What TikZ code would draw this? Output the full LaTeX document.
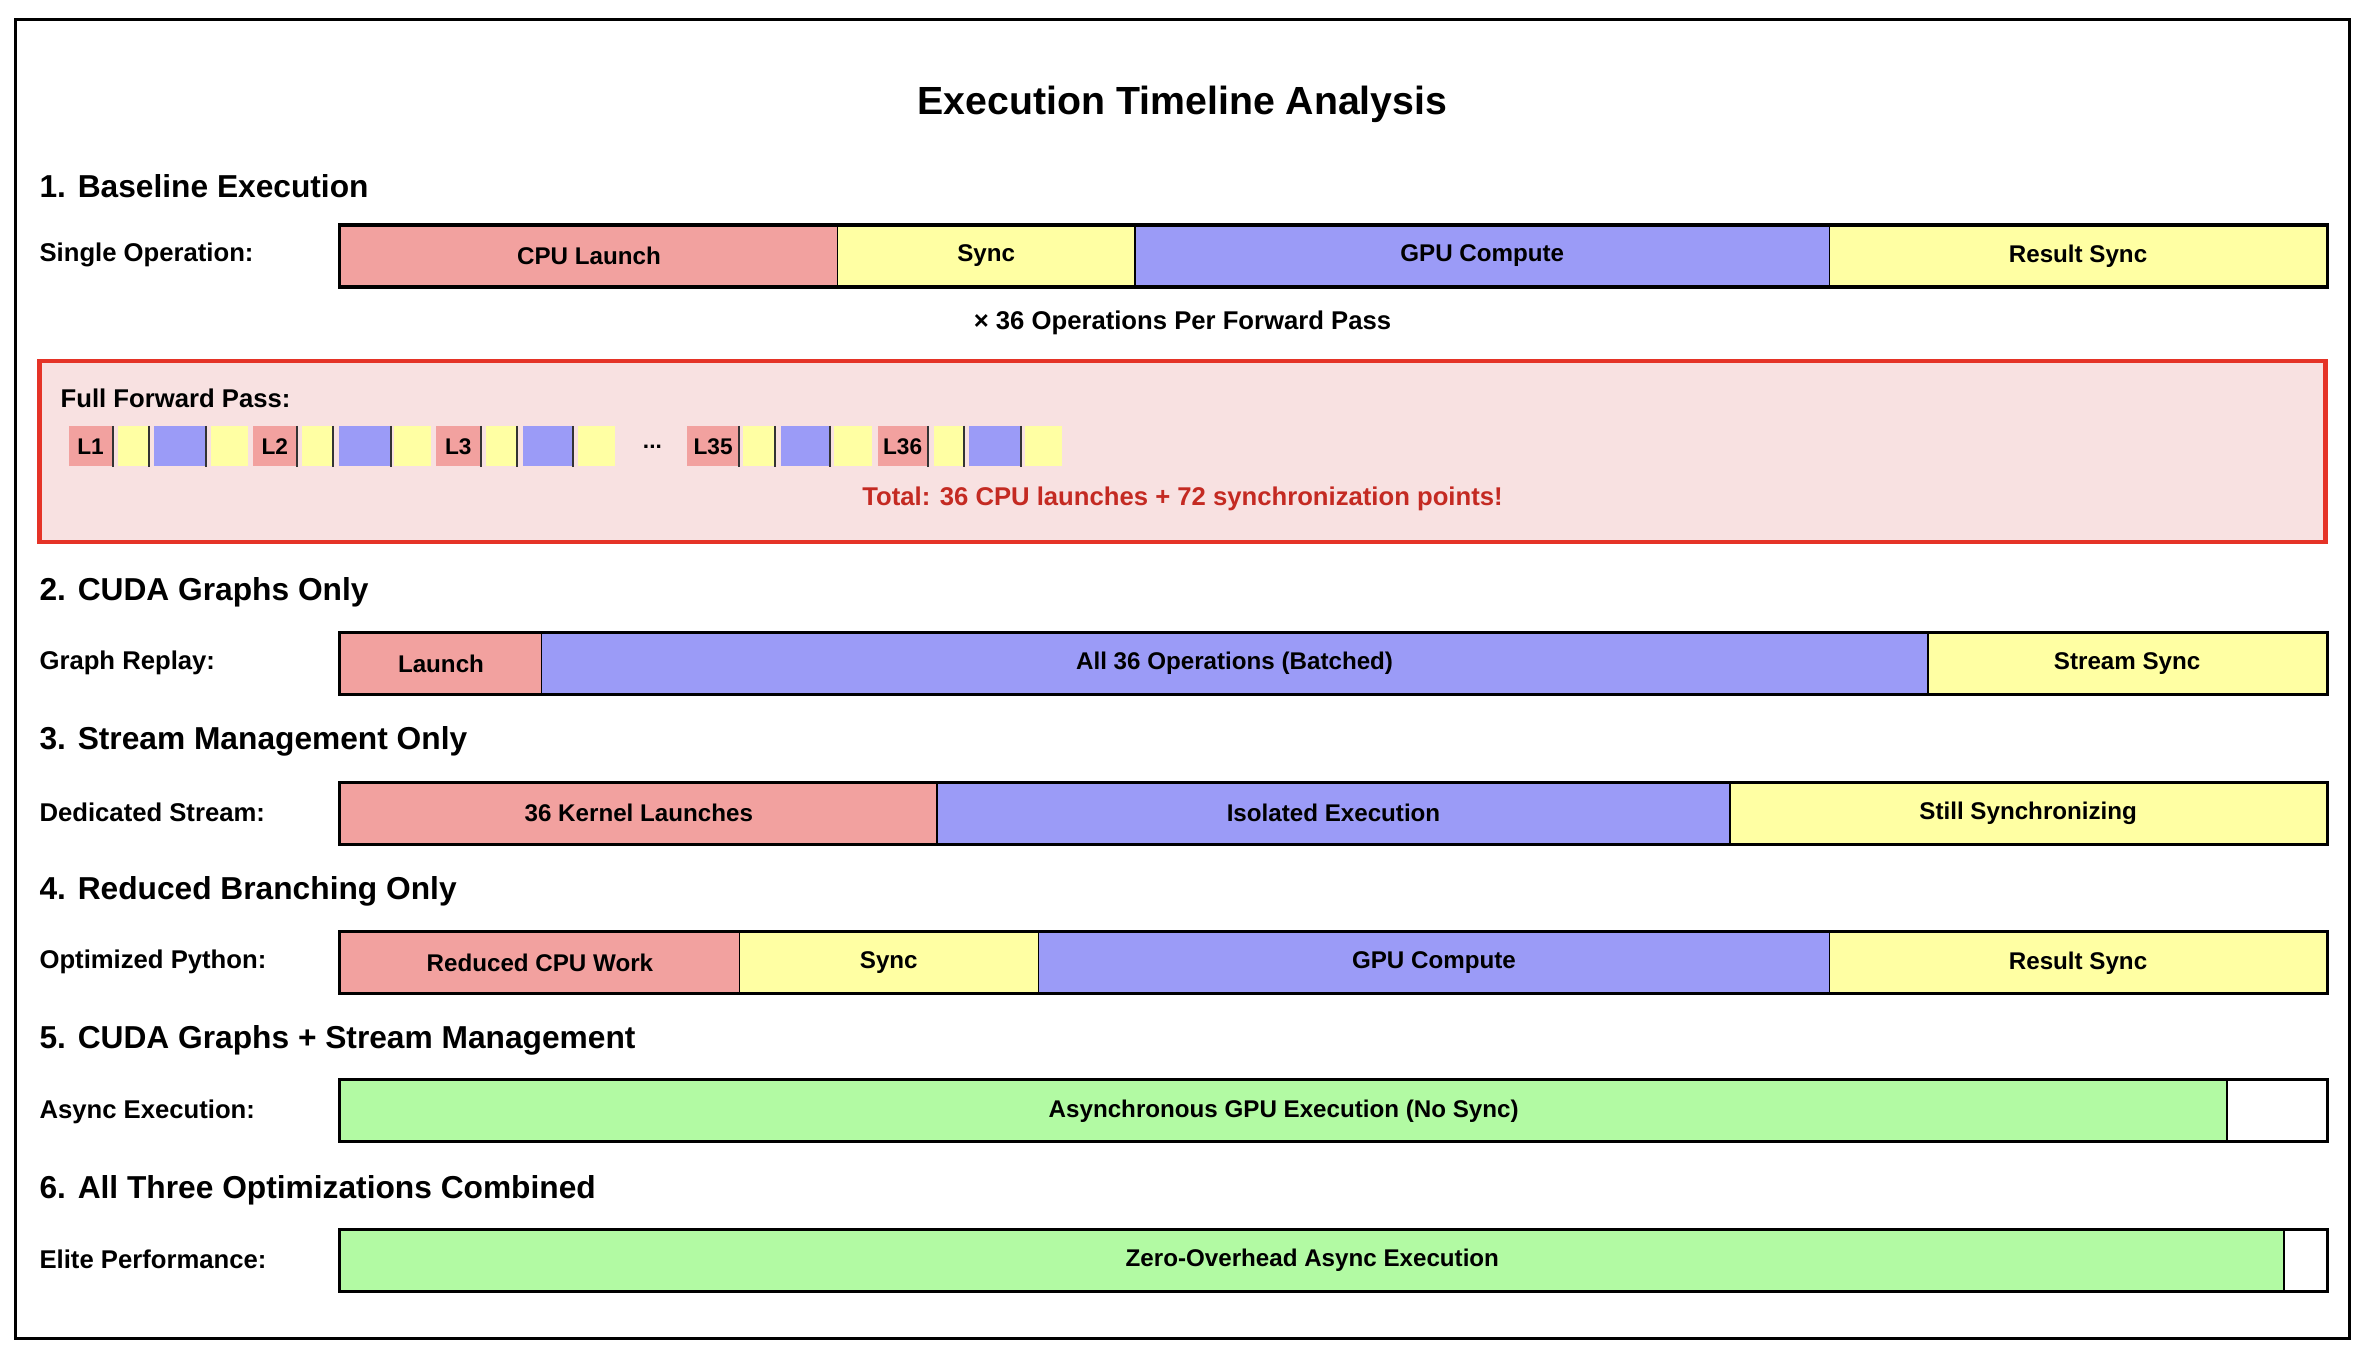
\documentclass[tikz,border=0pt]{standalone}
\usepackage{fontspec}
\setmainfont{Liberation Sans}
\definecolor{cred}{HTML}{F2A19F}
\definecolor{cyel}{HTML}{FFFFA3}
\definecolor{cblu}{HTML}{9B9BF7}
\definecolor{cgrn}{HTML}{B2FAA3}
\definecolor{pinkbg}{HTML}{F8E1E1}
\definecolor{redline}{HTML}{E53327}
\definecolor{redtext}{HTML}{C42A22}
\begin{document}
\begin{tikzpicture}[x=1pt,y=-1pt,
  seg/.style={draw=black,line width=1pt,inner sep=0pt,font=\fontsize{16}{18}\selectfont\bfseries},
  barframe/.style={draw=black,line width=2.2pt},
  head/.style={anchor=west,font=\fontsize{21}{24}\selectfont\bfseries,inner sep=0pt},
  lab/.style={anchor=west,font=\fontsize{17}{20}\selectfont\bfseries,inner sep=0pt},
  sm/.style={inner sep=0pt,font=\fontsize{15}{17}\selectfont\bfseries}]
\useasboundingbox (0,0) rectangle (1568,898);
\draw[line width=2pt] (10,13) rectangle (1556,886);
\node[font=\fontsize{26}{30}\selectfont\bfseries] (title) at (783,69) {Execution Timeline Analysis};

% helper macro for segments
\newcommand{\segbox}[6]{\node[seg,fill=#2,minimum width={#4-#3},minimum height=40,anchor=north west] (#1) at (#3,#5) {#6};}

% Row 1
\node[head] (h1) at (26,123) {1. Baseline Execution};
\node[lab] (l1) at (26,169) {Single Operation:};
\segbox{a1}{cred}{225}{554}{149}{CPU Launch}
\segbox{a2}{cyel}{554}{751}{149}{Sync}
\segbox{a3}{cblu}{751}{1211}{149}{GPU Compute}
\segbox{a4}{cyel}{1211}{1540}{149}{Result Sync}
\draw[barframe] (a1.north west) rectangle (a4.south east);
\node[font=\fontsize{17}{20}\selectfont\bfseries] (mult) at (783,214) {× 36 Operations Per Forward Pass};

% Full forward pass
\draw[redline,fill=pinkbg,line width=3pt] (26,239) rectangle (1540,359);
\node[lab] (ffp) at (40,264) {Full Forward Pass:};
\foreach \n/\c/\xa/\xb/\t/\e in {
 b1/cred/45.2/74.4/L1/1, b2/cyel/78/98.4//1, b3/cblu/102/136//1, b4/cyel/139.6/164//0,
 b5/cred/167/196.5/L2/1, b6/cyel/199.6/220.3//1, b7/cblu/224/258.5//1, b8/cyel/260.8/285//0,
 b9/cred/288.6/318/L3/1, b10/cyel/321.5/342//1, b11/cblu/346/379//1, b12/cyel/382.6/407//0,
 b13/cred/455/489/L35/1, b14/cyel/492/513//1, b15/cblu/516.8/549//1, b16/cyel/552/577.5//0,
 b17/cred/581/614/L36/1, b18/cyel/618/638//1, b19/cblu/641.6/675.6//1, b20/cyel/678.6/703//0}{
  \node[sm,fill=\c,minimum width={\xb-\xa},minimum height=26.6,anchor=north west] (\n) at (\xa,282) {\t};
  \ifnum\e=1 \draw[line width=1.2pt,black!80] (\n.north east) -- (\n.south east);\fi
}
\node[sm] (dots) at (432,296) {...};
\node[font=\fontsize{17}{20}\selectfont\bfseries,text=redtext] (total) at (783,330) {Total: 36 CPU launches + 72 synchronization points!};

% Row 2
\node[head] (h2) at (26,392) {2. CUDA Graphs Only};
\node[lab] (l2) at (26,439) {Graph Replay:};
\segbox{c1}{cred}{225}{358}{419}{Launch}
\segbox{c2}{cblu}{358}{1276}{419}{All 36 Operations (Batched)}
\segbox{c3}{cyel}{1276}{1540}{419}{Stream Sync}
\draw[barframe] (c1.north west) rectangle (c3.south east);

% Row 3
\node[head] (h3) at (26,491) {3. Stream Management Only};
\node[lab] (l3) at (26,538) {Dedicated Stream:};
\segbox{d1}{cred}{225}{620}{518}{36 Kernel Launches}
\segbox{d2}{cblu}{620}{1145}{518}{Isolated Execution}
\segbox{d3}{cyel}{1145}{1540}{518}{Still Synchronizing}
\draw[barframe] (d1.north west) rectangle (d3.south east);

% Row 4
\node[head] (h4) at (26,590) {4. Reduced Branching Only};
\node[lab] (l4) at (26,637) {Optimized Python:};
\segbox{e1}{cred}{225}{489}{617}{Reduced CPU Work}
\segbox{e2}{cyel}{489}{687}{617}{Sync}
\segbox{e3}{cblu}{687}{1211}{617}{GPU Compute}
\segbox{e4}{cyel}{1211}{1540}{617}{Result Sync}
\draw[barframe] (e1.north west) rectangle (e4.south east);

% Row 5
\node[head] (h5) at (26,689) {5. CUDA Graphs + Stream Management};
\node[lab] (l5) at (26,736) {Async Execution:};
\segbox{f1}{cgrn}{225}{1474}{715}{Asynchronous GPU Execution (No Sync)}
\segbox{f2}{white}{1474}{1540}{715}{}
\draw[barframe] (f1.north west) rectangle (f2.south east);

% Row 6
\node[head] (h6) at (26,788) {6. All Three Optimizations Combined};
\node[lab] (l6) at (26,834) {Elite Performance:};
\segbox{g1}{cgrn}{225}{1512}{814}{Zero-Overhead Async Execution}
\segbox{g2}{white}{1512}{1540}{814}{}
\draw[barframe] (g1.north west) rectangle (g2.south east);
\end{tikzpicture}
\end{document}
